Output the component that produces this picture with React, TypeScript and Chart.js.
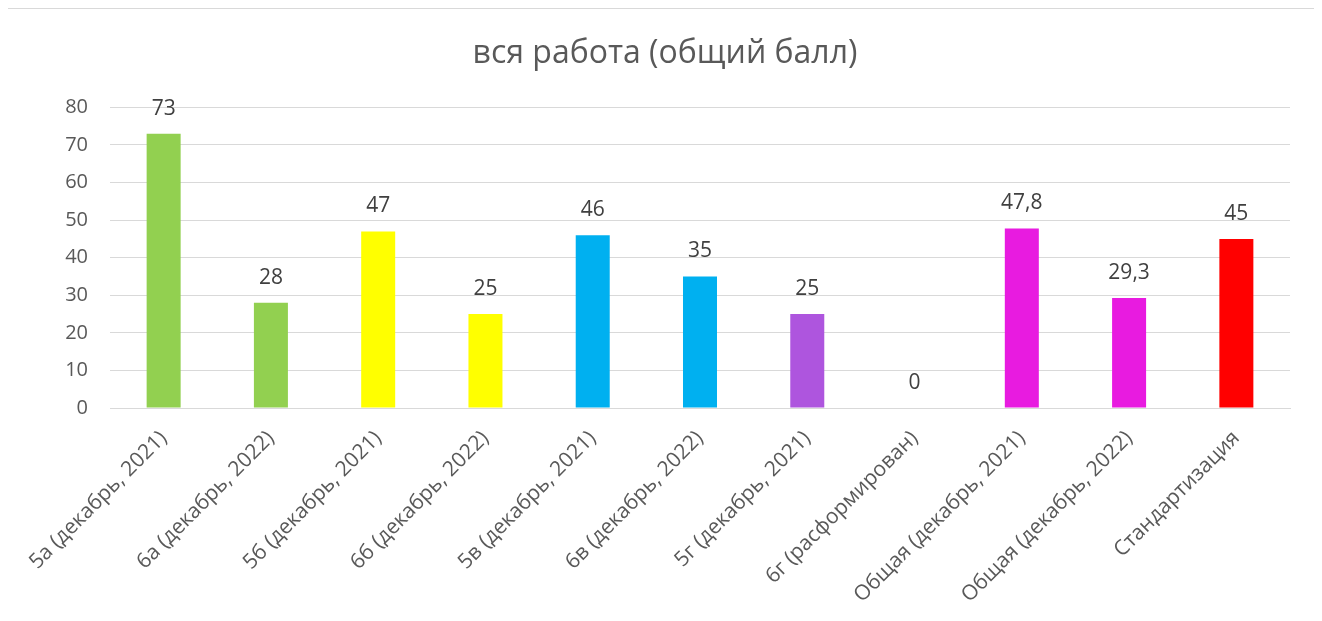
import React, { useEffect, useRef } from "react";
import { Chart, registerables } from "chart.js";

Chart.register(...registerables);

const categories = [
  "5а (декабрь, 2021)",
  "6а (декабрь, 2022)",
  "5б (декабрь, 2021)",
  "6б (декабрь, 2022)",
  "5в (декабрь, 2021)",
  "6в (декабрь, 2022)",
  "5г (декабрь, 2021)",
  "6г (расформирован)",
  "Общая (декабрь, 2021)",
  "Общая (декабрь, 2022)",
  "Стандартизация",
];
const values = [73, 28, 47, 25, 46, 35, 25, 0, 47.8, 29.3, 45];
const barColors = [
  "#92D050",
  "#92D050",
  "#FFFF00",
  "#FFFF00",
  "#00B0F0",
  "#00B0F0",
  "#AE55DE",
  "#AE55DE",
  "#E81BE0",
  "#E81BE0",
  "#FF0000",
];
const title = "вся работа (общий балл)";
const yMin = 0;
const yMax = 80;
const yStep = 10;

const FONT = "'Open Sans', 'Noto Sans', sans-serif";

const dataLabels = {
  id: "dataLabels",
  afterDatasetsDraw(chart: any) {
    const { ctx } = chart;
    const meta = chart.getDatasetMeta(0);
    ctx.save();
    ctx.font = `21px ${FONT}`;
    ctx.fillStyle = "#404040";
    ctx.textAlign = "center";
    ctx.textBaseline = "middle";
    meta.data.forEach((bar: any, i: number) => {
      const v = values[i];
      const txt = String(v).replace(".", ",");
      ctx.fillText(txt, bar.x, bar.y - 25);
    });
    ctx.restore();
  },
};

export default function App() {
  const ref = useRef<HTMLCanvasElement>(null);
  useEffect(() => {
    document.body.style.overflow = "hidden";
    const chart = new Chart(ref.current!, {
      type: "bar",
      data: {
        labels: categories,
        datasets: [
          {
            data: values,
            backgroundColor: barColors,
            barPercentage: 0.317,
            categoryPercentage: 1,
          },
        ],
      },
      plugins: [dataLabels],
      options: {
        animation: false,
        responsive: false,
        maintainAspectRatio: false,
        layout: { padding: { left: 33, right: 25, top: 0, bottom: 0 } },
        plugins: {
          legend: { display: false },
          tooltip: { enabled: false },
          title: {
            display: true,
            text: title,
            color: "#595959",
            font: { family: FONT, size: 32, weight: "normal" },
            padding: { top: 26, bottom: 34 },
          },
        },
        scales: {
          x: {
            grid: { display: false, drawTicks: false },
            border: { display: true, color: "#d9d9d9", width: 1 },
            ticks: {
              color: "#595959",
              font: { family: FONT, size: 21 },
              maxRotation: 45,
              minRotation: 45,
              autoSkip: false,
              padding: 18,
            },
            afterFit(scale: any) {
              scale.height = 213;
            },
          },
          y: {
            min: yMin,
            max: yMax,
            grid: { color: "#d9d9d9", lineWidth: 1, drawTicks: false },
            border: { display: false },
            ticks: {
              stepSize: yStep,
              color: "#595959",
              font: { family: FONT, size: 20 },
              padding: 22,
            },
            afterFit(scale: any) {
              scale.width = 70;
            },
          },
        },
      },
    });
    return () => chart.destroy();
  }, []);
  return (
    <div
      style={{
        marginLeft: -2,
        width: 1308,
        height: 620,
        border: "1px solid #d9d9d9",
        borderBottom: "none",
        background: "#fff",
      }}
    >
      <canvas ref={ref} width={1308} height={612} style={{ display: "block" }} />
    </div>
  );
}
